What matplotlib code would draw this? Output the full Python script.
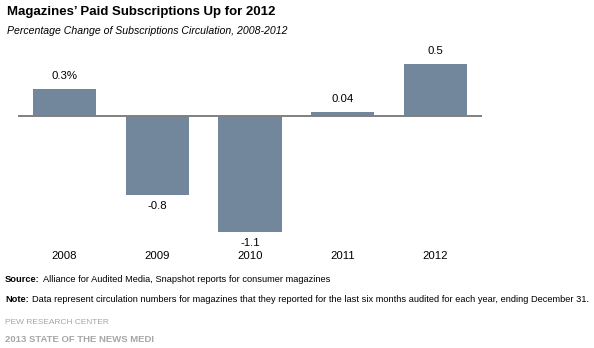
import matplotlib
matplotlib.use("Agg")
import matplotlib.pyplot as plt
import matplotlib.transforms as mtransforms

# Data
years = ["2008", "2009", "2010", "2011", "2012"]
pct_change = [0.26, -0.75, -1.1, 0.04, 0.49]
value_labels = ["0.3%", "-0.8", "-1.1", "0.04", "0.5"]

W, H = 594, 348
BAR_COLOR = "#72869c"

plt.rcParams['font.family'] = ['Liberation Sans', 'DejaVu Sans']

fig = plt.figure(figsize=(W / 100, H / 100), dpi=100)
renderer = fig.canvas.get_renderer()


def fy(px):
    # pixel from top -> figure fraction
    return 1 - px / H


def fx(px):
    return px / W


ax = fig.add_axes([fx(18), fy(240), fx(482 - 18), (240 - 40) / H])
x = list(range(len(years)))
ax.bar(x, pct_change, width=0.68, color=BAR_COLOR, zorder=2)
ax.axhline(0, color="#808080", lw=1.4, zorder=3)
ax.set_xlim(-0.5, 4.5)
ax.set_ylim(-1.175, 0.72)
ax.axis("off")

# value labels
for xi, v, lab in zip(x, pct_change, value_labels):
    if v >= 0:
        ax.annotate(lab, (xi, v), xytext=(0, 8), textcoords="offset pixels",
                    ha="center", va="bottom", fontsize=8.2)
    else:
        ax.annotate(lab, (xi, v), xytext=(0, -6), textcoords="offset pixels",
                    ha="center", va="top", fontsize=8.2)

# year labels
trans = mtransforms.blended_transform_factory(ax.transData, fig.transFigure)
for xi, yr in zip(x, years):
    ax.text(xi, fy(256), yr, transform=trans, ha="center", va="center",
            fontsize=8.2)

fig.text(fx(7), fy(12), "Magazines\u2019 Paid Subscriptions Up for 2012",
         fontsize=9.5, fontweight="bold", va="center", ha="left")
fig.text(fx(7), fy(31), "Percentage Change of Subscriptions Circulation, 2008-2012",
         fontsize=7.6, fontstyle="italic", va="center", ha="left")


# footer lines: bold head + regular rest
def footer(xpx, ypx, head, rest, size):
    t1 = fig.text(fx(xpx), fy(ypx), head, fontsize=size, fontweight="bold",
                  va="center", ha="left")
    bb = t1.get_window_extent(renderer=renderer)
    t2 = fig.text((bb.x1 + 3) / W, fy(ypx), rest, fontsize=size,
                  va="center", ha="left")
    return t2.get_window_extent(renderer=renderer).x1


# size the note so it ends where the reference's does, reuse it for source
note_head = "Note:"
note_rest = "Data represent circulation numbers for magazines that they reported for the last six months audited for each year, ending December 31."
probe = fig.text(0, 0, note_head + "  " + note_rest, fontsize=7.0)
pw = probe.get_window_extent(renderer=renderer).width
probe.remove()
foot_size = 7.0 * (589 - 5) / pw

footer(5, 280, "Source:", "Alliance for Audited Media, Snapshot reports for consumer magazines", foot_size)
footer(5, 299, note_head, note_rest, foot_size)

fig.text(fx(5), fy(322), "PEW RESEARCH CENTER", fontsize=6.0, color="#a6a6a6",
         va="center", ha="left")
fig.text(fx(5), fy(339), "2013 STATE OF THE NEWS MEDI", fontsize=6.8, fontweight="bold",
         color="#a6a6a6", va="center", ha="left")

fig.savefig("out.png", dpi=100)
